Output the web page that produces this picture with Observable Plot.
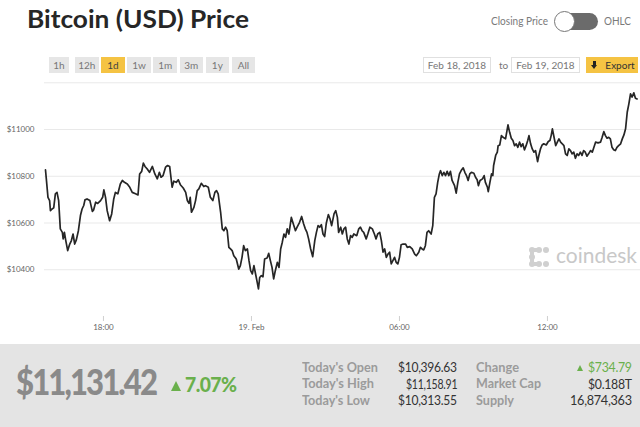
<!DOCTYPE html>
<html><head><meta charset="utf-8">
<script src="https://cdn.jsdelivr.net/npm/d3@7"></script>
<script src="https://cdn.jsdelivr.net/npm/@observablehq/plot@0.6"></script>
<style>
html,body{margin:0;padding:0;background:#fff}
body{width:640px;height:427px;overflow:hidden;position:relative;font-family:Lato,"Open Sans",sans-serif}
.a{position:absolute;white-space:nowrap;line-height:1}
.b{position:absolute;box-sizing:border-box}
#chart{position:absolute;left:0;top:72px}
</style></head><body>
<div id="chart"></div>
<div id="layer"></div>
<script>
// ---- data ----
const startTime = Date.UTC(2018, 1, 18, 15, 39); // first sample
const minutes = [0,2,6,10,12,16,20,24,28,32,36,41,43,46,49,54,59,63,67,71,75,80,85,89,93,96,101,108,114,117,122,127,134,139,142,146,150,156,161,166,170,176,182,187,192,199,205,211,219,225,229,234,238,242,247,253,260,266,272,277,281,286,292,297,302,308,312,318,323,328,335,341,
345,349,352,355,361,365,369,373,379,385,389,396,401,407,412,416,420,426,430,434,438,442,446,450,454,458,464,470,474,478,482,486,491,495,499,503,507,511,515,518,521,525,529,533,539,543,547,551,555,559,564,568,572,576,580,584,588,592,598,604,608,612,618,623,628,632,636,640,645,650,655,659,663,667,671,675,679,683,688,692,696,702,706,
710,713,718,722,726,730,734,738,742,746,750,757,762,766,770,774,780,784,789,795,800,804,808,813,817,821,825,829,833,837,841,845,849,853,857,861,865,870,876,880,886,892,898,902,908,912,916,920,924,928,932,938,942,946,950,954,958,961,965,969,973,977,981,985,989,995,999,1003,1007,1012,1016,1020,1024,1028,1032,1036,1042,1046,1050,1053,1057,
1063,1067,1070,1075,1077,1081,1085,1088,1090,1095,1099,1101,1105,1109,1113,1119,1125,1129,1133,1137,1141,1145,1149,1153,1157,1161,1165,1169,1173,1176,1180,1184,1188,1192,1197,1200,1204,1208,1212,1218,1223,1227,1230,1233,1237,1241,1245,1249,1253,1257,1261,1265,1269,1273,1277,1281,1285,1289,1293,1297,1301,1305,1309,1313,1317,1321,1326,1330,1334,1338,1344,1350,1354,1358,1362,1366,1370,1374,1378,1382,1386,1390,1394,1399,1403,1407,1411,1415,1419,1423,1427,1431,1435,1439];
const prices = [10827,10789,10710,10696,10653,10660,10665,10725,10731,10696,10575,10560,10532,10560,10528,10482,10510,10525,10553,10510,10528,10567,10632,10660,10675,10699,10703,10696,10650,10656,10689,10684,10696,10710,10742,10710,10653,10610,10639,10703,10731,10725,10767,10782,10774,10767,10753,10731,10725,10720,10810,10821,10856,10842,10832,10817,10842,10810,10789,10817,10796,10803,10839,10846,10842,10753,10779,10774,10785,10764,10750,10731,
10696,10684,10710,10646,10667,10696,10739,10746,10770,10756,10760,10753,10710,10696,10731,10739,10725,10646,10575,10567,10582,10567,10496,10489,10482,10460,10446,10403,10418,10453,10503,10482,10489,10439,10396,10382,10418,10382,10346,10318,10367,10375,10370,10446,10450,10470,10439,10410,10361,10396,10432,10410,10489,10518,10553,10539,10575,10553,10624,10589,10567,10582,10603,10628,10596,10575,10560,10532,10489,10456,10525,10560,10589,10582,10593,10553,10542,10599,10636,10618,10589,10640,10653,
10624,10560,10582,10553,10575,10582,10532,10510,10546,10539,10553,10546,10575,10582,10567,10560,10532,10553,10582,10575,10553,10532,10553,10560,10525,10475,10489,10453,10467,10475,10425,10439,10453,10432,10425,10453,10507,10510,10510,10496,10499,10489,10467,10460,10475,10496,10489,10485,10503,10560,10567,10553,10589,10710,10725,10774,10810,10824,10803,10817,10803,10821,10803,10821,10782,10760,10728,10774,10810,10827,10836,10817,10803,10782,10810,10817,10813,10796,10785,10760,10782,
10789,10803,10774,10753,10734,10774,10810,10803,10846,10889,10903,10931,10934,10974,10967,10960,11020,10988,10963,10953,10931,10939,10924,10946,10927,10939,10913,10931,10953,10974,10939,10917,10903,10910,10863,10889,10917,10934,10939,10934,10949,10953,10974,11003,10967,10931,10946,10960,10946,10939,10931,10896,10889,10917,10910,10896,10903,10877,10896,10889,10903,10889,10910,10903,10886,10896,10910,10903,10924,10946,10943,10946,10967,10991,10974,10963,10967,10960,10924,10914,10910,10924,10931,10939,10960,10977,11003,11074,11110,11153,11139,11157,11134,11131];
const yTicks = [10400, 10600, 10800, 11000];
const yGrid = [10400, 10600, 10800, 11000, 11200];
const xTickTimes = [Date.UTC(2018,1,18,18,0), Date.UTC(2018,1,19,0,0), Date.UTC(2018,1,19,6,0), Date.UTC(2018,1,19,12,0)];
const xTickLabels = ["18:00", "19. Feb", "06:00", "12:00"];
const rangeButtons = ["1h","12h","1d","1w","1m","3m","1y","All"];
const activeRange = "1d";
const fromDate = "Feb 18, 2018", toDate = "Feb 19, 2018";
const lastPrice = "$11,131.42", changePct = "7.07%";
const statLabels1 = ["Today's Open","Today's High","Today's Low"];
const statValues1 = ["$10,396.63","$11,158.91","$10,313.55"];
const statLabels2 = ["Change","Market Cap","Supply"];
const statValues2 = ["$734.79","$0.188T","16,874,363"];

// ---- chart ----
const data = minutes.map((m, i) => ({date: new Date(startTime + m * 60000), price: prices[i]}));
const labelOf = new Map(xTickTimes.map((t, i) => [t, xTickLabels[i]]));
const chart = Plot.plot({
  width: 640, height: 268,
  marginLeft: 45, marginRight: 3, marginTop: 10.3, marginBottom: 24,
  style: {fontFamily: "Lato, sans-serif", fontSize: "8px", background: "transparent", overflow: "visible"},
  x: {type: "utc", domain: [new Date(startTime), new Date(startTime + 1440 * 60000)]},
  y: {domain: [10200, 11200]},
  marks: [
    Plot.ruleY(yGrid, {stroke: "#e9e9e9", strokeWidth: 1, insetLeft: -1, insetRight: -3}),
    Plot.axisY(yTicks, {tickSize: 0, tickPadding: 11, tickFormat: d => "$" + d, fill: "#666", label: null}),
    Plot.axisX(xTickTimes.map(t => new Date(t)), {tickSize: 5, tickPadding: 2.5, stroke: "#cfcfcf", fill: "#666", tickFormat: d => labelOf.get(+d), label: null}),
    Plot.line(data, {x: "date", y: "price", stroke: "#262626", strokeWidth: 1.7, strokeLinejoin: "round"})
  ]
});
document.getElementById("chart").appendChild(chart);

// ---- surrounding page elements ----
const layer = document.getElementById("layer");
function box(x, y, w, h, st) {
  const d = document.createElement("div"); d.className = "b";
  Object.assign(d.style, {left: x + "px", top: y + "px", width: w + "px", height: h + "px"}, st || {});
  layer.appendChild(d); return d;
}
function txt(s, o) {
  const d = document.createElement("div"); d.className = "a"; d.textContent = s;
  d.style.fontSize = o.size + "px"; d.style.fontWeight = o.weight || 400; d.style.color = o.color || "#333";
  if (o.ls) d.style.letterSpacing = o.ls + "px";
  d.style.top = (o.base - 0.887 * o.size) + "px";
  layer.appendChild(d);
  const w = d.getBoundingClientRect().width - (o.ls || 0);
  if (o.w) {
    d.style.left = o.x + "px"; d.style.transformOrigin = "0 0";
    d.style.transform = "scaleX(" + (o.w / w) + ")";
  } else if (o.align === "right") d.style.left = (o.x - w) + "px";
  else if (o.align === "center") d.style.left = (o.x - w / 2) + "px";
  else d.style.left = o.x + "px";
  return d;
}
function tri(x, y, w, h, color) {
  return box(x, y, 0, 0, {borderLeft: (w/2) + "px solid transparent", borderRight: (w/2) + "px solid transparent", borderBottom: h + "px solid " + color});
}

// title
txt("Bitcoin (USD) Price", {x: 27, base: 28, size: 25, weight: 700, color: "#262626", w: 222});
// toggle
txt("Closing Price", {x: 491, base: 25, size: 11.5, color: "#7a7a7a", w: 57});
box(558, 12.5, 40, 17, {background: "#6b6b6b", borderRadius: "8.5px"});
box(554, 11, 21, 21, {background: "#fff", border: "1.5px solid #777", borderRadius: "50%"});
txt("OHLC", {x: 604, base: 25, size: 11.5, color: "#7a7a7a", w: 27});
// range buttons
rangeButtons.forEach((b, i) => {
  const x = 49 + i * 26.1, w = i === 0 ? 20 : 23.5;
  const on = b === activeRange;
  box(x, 57, w, 16, {background: on ? "#f5c343" : "#e6e6e6"});
  txt(b, {x: x + w / 2, base: 68.8, size: 10, color: on ? "#444" : "#777", align: "center"});
});
// date range
box(423, 57, 68, 16, {background: "#fff", border: "1px solid #e0e0e0"});
txt(fromDate, {x: 457, base: 68.8, size: 10, color: "#777", align: "center"});
txt("to", {x: 503.5, base: 68.8, size: 10, color: "#777", align: "center"});
box(511, 57, 69, 16, {background: "#fff", border: "1px solid #e0e0e0"});
txt(toDate, {x: 545.5, base: 68.8, size: 10, color: "#777", align: "center"});
box(586, 57, 52, 16, {background: "#f5c343"});
box(593.3, 60.5, 2.6, 5, {background: "#222"});
tri(591.2, 65.2, 6.8, 4.5, "#222").style.transform = "rotate(180deg)";
txt("Export", {x: 620, base: 68.8, size: 10, color: "#333", align: "center"});

// coindesk watermark
[[0,0],[1,0],[2,0],[0,1],[0,2],[1,2],[2,2]].forEach(([c, r]) => {
  box(529 + c * 7.2, 247 + r * 7.2, 6, 6, {background: "#d0d0d0", borderRadius: "50%"});
});
box(530, 248, 4, 18, {background: "#d0d0d0", borderRadius: "2px"});
box(530, 248, 11, 4, {background: "#d0d0d0", borderRadius: "2px"});
box(530, 262, 11, 4, {background: "#d0d0d0", borderRadius: "2px"});
txt("coindesk", {x: 556, base: 264, size: 22, color: "#c8c8c8", w: 81});

// bottom panel
box(0, 344, 640, 83, {background: "#e4e4e4"});
txt(lastPrice, {x: 16, base: 395, size: 36, weight: 900, color: "#8a8a8a", ls: -2.2, w: 142});
tri(171, 380.5, 11, 10, "#6ab04c");
txt(changePct, {x: 185, base: 392.3, size: 20.5, weight: 900, color: "#6ab04c", ls: -0.6, w: 52});
const rowsBase = [372.7, 389.3, 406];
const lab1W = [76, 72, 68], val1W = [59, 51.5, 59];
statLabels1.forEach((s, i) => txt(s, {x: 302, base: rowsBase[i], size: 12.5, weight: 700, color: "#9b9b9b", w: lab1W[i]}));
statValues1.forEach((s, i) => txt(s, {x: 457 - val1W[i], base: rowsBase[i], size: 13, color: "#333", ls: -0.3, w: val1W[i]}));
const lab2W = [43, 65, 38], val2W = [44, 44, 62];
statLabels2.forEach((s, i) => txt(s, {x: 476, base: rowsBase[i], size: 12.5, weight: 700, color: "#9b9b9b", w: lab2W[i]}));
statValues2.forEach((s, i) => txt(s, {x: 632 - val2W[i], base: rowsBase[i], size: 13, color: i === 0 ? "#6ab04c" : "#333", ls: -0.3, w: val2W[i]}));
tri(577, 364.8, 7.5, 6.2, "#6ab04c");
</script>
</body></html>
